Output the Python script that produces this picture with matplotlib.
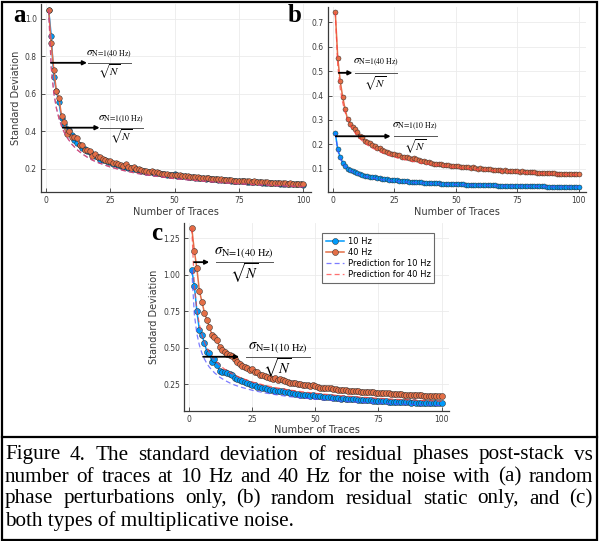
import matplotlib
matplotlib.use("Agg")
import matplotlib.pyplot as plt
from matplotlib.patches import Rectangle
from matplotlib.lines import Line2D

plt.rcParams['mathtext.fontset'] = 'stix'

# number of stacked traces
n_traces = list(range(1, 101))

# (a) random phase perturbations only
a_10hz = [1.05, 0.91, 0.69, 0.615, 0.555, 0.47, 0.44, 0.415, 0.405, 0.38,
          0.355, 0.34, 0.33, 0.31, 0.305, 0.295, 0.29, 0.28, 0.27, 0.262,
          0.25, 0.25, 0.245, 0.238, 0.235, 0.228, 0.225, 0.22, 0.215, 0.212,
          0.21, 0.206, 0.204, 0.2, 0.198, 0.195, 0.19, 0.19, 0.186, 0.184,
          0.182, 0.18, 0.178, 0.176, 0.175, 0.172, 0.17, 0.168, 0.168, 0.175,
          0.164, 0.163, 0.16, 0.16, 0.158, 0.156, 0.155, 0.153, 0.152, 0.151,
          0.15, 0.148, 0.15, 0.146, 0.145, 0.144, 0.143, 0.142, 0.141, 0.14,
          0.139, 0.138, 0.137, 0.136, 0.135, 0.134, 0.138, 0.132, 0.131, 0.13,
          0.13, 0.129, 0.128, 0.127, 0.127, 0.126, 0.125, 0.124, 0.124, 0.123,
          0.122, 0.122, 0.121, 0.12, 0.12, 0.119, 0.118, 0.118, 0.117, 0.116]
a_40hz = [1.05, 0.87, 0.73, 0.615, 0.578, 0.484, 0.45, 0.385, 0.40, 0.37,
          0.368, 0.365, 0.33, 0.325, 0.30, 0.30, 0.295, 0.27, 0.28, 0.265,
          0.262, 0.255, 0.25, 0.243, 0.24, 0.232, 0.23, 0.226, 0.222, 0.215,
          0.225, 0.21, 0.205, 0.21, 0.2, 0.2, 0.196, 0.19, 0.19, 0.186,
          0.19, 0.182, 0.185, 0.178, 0.175, 0.173, 0.172, 0.17, 0.168, 0.17,
          0.165, 0.165, 0.162, 0.16, 0.16, 0.158, 0.157, 0.155, 0.155, 0.152,
          0.153, 0.15, 0.15, 0.148, 0.148, 0.145, 0.146, 0.145, 0.143, 0.142,
          0.14, 0.142, 0.138, 0.138, 0.137, 0.138, 0.135, 0.133, 0.134, 0.132,
          0.133, 0.13, 0.13, 0.128, 0.128, 0.129, 0.127, 0.126, 0.126, 0.125,
          0.125, 0.124, 0.123, 0.122, 0.123, 0.121, 0.121, 0.12, 0.12, 0.119]

# (b) random residual static only
b_10hz = [0.246, 0.179, 0.148, 0.125, 0.111, 0.1, 0.095, 0.091, 0.087, 0.083,
          0.079, 0.076, 0.072, 0.07, 0.068, 0.066, 0.064, 0.062, 0.061, 0.059,
          0.058, 0.056, 0.055, 0.054, 0.053, 0.052, 0.051, 0.05, 0.049, 0.048,
          0.047, 0.047, 0.046, 0.045, 0.044, 0.044, 0.043, 0.043, 0.042, 0.041,
          0.041, 0.04, 0.04, 0.039, 0.039, 0.038, 0.038, 0.038, 0.037, 0.037,
          0.036, 0.036, 0.036, 0.035, 0.035, 0.035, 0.034, 0.034, 0.034, 0.033,
          0.033, 0.033, 0.032, 0.032, 0.032, 0.032, 0.031, 0.031, 0.031, 0.031,
          0.03, 0.03, 0.03, 0.03, 0.03, 0.029, 0.029, 0.029, 0.029, 0.029,
          0.028, 0.028, 0.028, 0.028, 0.028, 0.028, 0.027, 0.027, 0.027, 0.027,
          0.027, 0.027, 0.026, 0.026, 0.026, 0.026, 0.026, 0.026, 0.026, 0.026]
b_40hz = [0.741, 0.554, 0.459, 0.394, 0.344, 0.302, 0.285, 0.271, 0.264, 0.25,
          0.236, 0.228, 0.214, 0.21, 0.205, 0.198, 0.192, 0.185, 0.186, 0.178,
          0.172, 0.168, 0.163, 0.16, 0.16, 0.157, 0.155, 0.15, 0.148, 0.146,
          0.143, 0.14, 0.142, 0.138, 0.135, 0.133, 0.13, 0.128, 0.127, 0.122,
          0.119, 0.12, 0.118, 0.12, 0.117, 0.115, 0.114, 0.112, 0.113, 0.112,
          0.11, 0.108, 0.109, 0.106, 0.106, 0.104, 0.105, 0.102, 0.1, 0.101,
          0.099, 0.1, 0.097, 0.097, 0.096, 0.095, 0.094, 0.094, 0.092, 0.093,
          0.091, 0.092, 0.09, 0.089, 0.09, 0.088, 0.089, 0.087, 0.087, 0.086,
          0.085, 0.086, 0.084, 0.084, 0.083, 0.083, 0.082, 0.082, 0.081, 0.081,
          0.08, 0.08, 0.08, 0.079, 0.079, 0.078, 0.078, 0.077, 0.078, 0.077]

# (c) both types of multiplicative noise
c_10hz = [1.033, 0.925, 0.752, 0.622, 0.588, 0.53, 0.473, 0.462, 0.398, 0.421,
          0.382, 0.341, 0.335, 0.33, 0.325, 0.318, 0.31, 0.29, 0.285, 0.28,
          0.27, 0.265, 0.26, 0.25, 0.245, 0.24, 0.232, 0.228, 0.225, 0.222,
          0.215, 0.21, 0.21, 0.205, 0.205, 0.2, 0.2, 0.195, 0.192, 0.19,
          0.186, 0.18, 0.183, 0.178, 0.176, 0.175, 0.172, 0.17, 0.172, 0.17,
          0.168, 0.166, 0.163, 0.16, 0.158, 0.16, 0.155, 0.154, 0.152, 0.15,
          0.155, 0.15, 0.148, 0.146, 0.145, 0.146, 0.143, 0.142, 0.14, 0.14,
          0.138, 0.137, 0.136, 0.134, 0.135, 0.133, 0.132, 0.133, 0.13, 0.13,
          0.129, 0.128, 0.126, 0.127, 0.125, 0.126, 0.124, 0.123, 0.124, 0.122,
          0.122, 0.121, 0.12, 0.121, 0.119, 0.12, 0.118, 0.119, 0.117, 0.12]
c_40hz = [1.318, 1.165, 1.045, 0.889, 0.816, 0.74, 0.69, 0.64, 0.588, 0.57,
          0.553, 0.503, 0.48, 0.47, 0.455, 0.45, 0.44, 0.42, 0.40, 0.39,
          0.375, 0.37, 0.36, 0.345, 0.35, 0.335, 0.33, 0.31, 0.315, 0.305,
          0.3, 0.29, 0.285, 0.29, 0.28, 0.282, 0.275, 0.27, 0.265, 0.26,
          0.258, 0.255, 0.25, 0.248, 0.245, 0.243, 0.24, 0.238, 0.24, 0.234,
          0.228, 0.226, 0.224, 0.222, 0.22, 0.222, 0.218, 0.215, 0.212, 0.21,
          0.212, 0.208, 0.205, 0.203, 0.205, 0.2, 0.202, 0.198, 0.196, 0.195,
          0.194, 0.192, 0.194, 0.19, 0.19, 0.188, 0.186, 0.188, 0.185, 0.183,
          0.182, 0.184, 0.18, 0.179, 0.178, 0.178, 0.176, 0.175, 0.176, 0.174,
          0.173, 0.172, 0.171, 0.17, 0.17, 0.169, 0.168, 0.167, 0.166, 0.165]

# prediction curves sigma_N=1 / sqrt(N), read at a subset of N
pred_n = [1, 2, 3, 4, 5, 6, 7, 8, 10, 12, 14, 16, 18, 20, 25, 30, 35, 40,
          50, 60, 70, 80, 90, 100]
a_pred_10 = [1.05, 0.742, 0.606, 0.525, 0.470, 0.429, 0.397, 0.371, 0.332, 0.303,
             0.281, 0.263, 0.247, 0.235, 0.21, 0.192, 0.177, 0.166, 0.148, 0.136,
             0.125, 0.117, 0.111, 0.105]
a_pred_40 = [1.05, 0.742, 0.606, 0.525, 0.470, 0.429, 0.397, 0.371, 0.332, 0.303,
             0.281, 0.263, 0.247, 0.235, 0.21, 0.192, 0.177, 0.166, 0.148, 0.136,
             0.125, 0.117, 0.111, 0.105]
b_pred_10 = [0.246, 0.174, 0.142, 0.123, 0.110, 0.100, 0.093, 0.087, 0.078, 0.071,
             0.066, 0.062, 0.058, 0.055, 0.049, 0.045, 0.042, 0.039, 0.035, 0.032,
             0.029, 0.028, 0.026, 0.025]
b_pred_40 = [0.741, 0.524, 0.428, 0.371, 0.331, 0.303, 0.280, 0.262, 0.234, 0.214,
             0.198, 0.185, 0.175, 0.166, 0.148, 0.135, 0.125, 0.117, 0.105, 0.096,
             0.089, 0.083, 0.078, 0.074]
c_pred_10 = [1.033, 0.730, 0.596, 0.517, 0.462, 0.422, 0.390, 0.365, 0.327, 0.298,
             0.276, 0.258, 0.243, 0.231, 0.207, 0.189, 0.175, 0.163, 0.146, 0.133,
             0.123, 0.115, 0.109, 0.103]
c_pred_40 = [1.318, 0.932, 0.761, 0.659, 0.589, 0.538, 0.498, 0.466, 0.417, 0.380,
             0.352, 0.330, 0.311, 0.295, 0.264, 0.241, 0.223, 0.208, 0.186, 0.170,
             0.158, 0.147, 0.139, 0.132]

xticks = [0, 25, 50, 75, 100]
a_yticks = [0.2, 0.4, 0.6, 0.8, 1.0]
b_yticks = [0.1, 0.2, 0.3, 0.4, 0.5, 0.6, 0.7]
c_yticks = [0.25, 0.50, 0.75, 1.00, 1.25]

caption = ["Figure 4. The standard deviation of residual phases post-stack vs",
           "number of traces at 10 Hz and 40 Hz for the noise with (a) random",
           "phase perturbations only, (b) random residual static only, and (c)",
           "both types of multiplicative noise."]

BLUE = '#009AFA'
ORANGE = '#E36F47'
W, H = 601, 541


def px_axes(left, top, right, bottom):
    # pixel box (top-left origin) -> figure fraction
    return [left / W, 1 - bottom / H, (right - left) / W, (bottom - top) / H]


def draw_panel(ax, s10, s40, p10, p40, ylim, yticks, ytlabels, ms):
    ax.plot(n_traces, s10, color=BLUE, lw=1.1, marker='o', ms=ms,
            mfc=BLUE, mec='#2a2a2a', mew=0.35, label='10 Hz')
    ax.plot(n_traces, s40, color=ORANGE, lw=1.1, marker='o', ms=ms,
            mfc=ORANGE, mec='#2a2a2a', mew=0.35, label='40 Hz')
    ax.plot(pred_n, p10, color='#5050ff', lw=0.9, ls=(0, (4, 2.5)), alpha=0.75,
            label='Prediction for 10 Hz')
    ax.plot(pred_n, p40, color='#ff4040', lw=0.9, ls=(0, (4, 2.5)), alpha=0.75,
            label='Prediction for 40 Hz')
    ax.set_xlim(-1.97, 102.97)
    ax.set_ylim(*ylim)
    ax.set_xticks(xticks)
    ax.set_yticks(yticks)
    ax.set_yticklabels(ytlabels)
    ax.grid(True, color='#ebebeb', lw=0.6)
    ax.set_axisbelow(True)
    for side in ('top', 'right'):
        ax.spines[side].set_visible(False)
    for side in ('left', 'bottom'):
        ax.spines[side].set_color('#3a3a3a')
        ax.spines[side].set_linewidth(0.9)
    ax.tick_params(direction='in', length=3, width=0.6, colors='#3a3a3a',
                   labelsize=5.5, labelcolor='#3a3a3a', pad=3)
    ax.set_xlabel('Number of Traces', fontsize=7, color='#3a3a3a', labelpad=1)


def fraction(ax, arrow, bar, y, dy_top, dy_bot, sub, size):
    ax.annotate('', xy=(arrow[1], y), xytext=(arrow[0], y),
                arrowprops=dict(arrowstyle='-|>', color='black', lw=1.3,
                                mutation_scale=6, shrinkA=0, shrinkB=0))
    ax.add_line(Line2D(bar, [y, y], color='#555555', lw=0.7))
    xc = (bar[0] + bar[1]) / 2
    ax.text(xc, y + dy_top, r'$\sigma_{\text{' + sub + r'}}$',
            ha='center', va='center', fontsize=size)
    ax.text(xc, y - dy_bot, r'$\sqrt{N}$', ha='center', va='center',
            fontsize=size)


fig = plt.figure(figsize=(W / 100, H / 100), dpi=100)

ax_a = fig.add_axes(px_axes(41, 4.3, 311, 192))
draw_panel(ax_a, a_10hz, a_40hz, a_pred_10, a_pred_40, (0.077, 1.078),
           a_yticks, ['0.2', '0.4', '0.6', '0.8', '1.0'], 4.0)
ax_a.set_ylabel('Standard Deviation', fontsize=7, color='#3a3a3a', labelpad=3)
fraction(ax_a, (1.9, 15.9), (16.3, 32.9), 0.766, 0.042, 0.05,
         'N=1(40 Hz)', 8)
fraction(ax_a, (6.5, 20.8), (21.0, 37.5), 0.42, 0.042, 0.05,
         'N=1(10 Hz)', 8)

ax_b = fig.add_axes(px_axes(328, 7.1, 586, 192))
draw_panel(ax_b, b_10hz, b_40hz, b_pred_10, b_pred_40, (0.0045, 0.7625),
           b_yticks, ['0.1', '0.2', '0.3', '0.4', '0.5', '0.6', '0.7'], 3.6)
fraction(ax_b, (2.4, 8.0), (8.9, 26.0), 0.493, 0.04, 0.045,
         'N=1(40 Hz)', 8)
fraction(ax_b, (1.2, 23.5), (24.9, 42.2), 0.233, 0.04, 0.045,
         'N=1(10 Hz)', 8)

ax_c = fig.add_axes(px_axes(184.3, 223.1, 449, 410.7))
draw_panel(ax_c, c_10hz, c_40hz, c_pred_10, c_pred_40, (0.067, 1.354),
           c_yticks, ['0.25', '0.50', '0.75', '1.00', '1.25'], 4.3)
ax_c.set_ylabel('Standard Deviation', fontsize=7, color='#3a3a3a', labelpad=3)
fraction(ax_c, (1.9, 7.9), (10.6, 33.0), 1.086, 0.065, 0.075,
         'N=1(40 Hz)', 10.5)
fraction(ax_c, (5.5, 19.8), (22.4, 47.7), 0.437, 0.065, 0.075,
         'N=1(10 Hz)', 10.5)
leg = ax_c.legend(loc='upper right', fontsize=6, frameon=True, fancybox=False,
                  borderpad=0.45, labelspacing=0.25, handlelength=2.2,
                  handletextpad=0.4, bbox_to_anchor=(0.96, 0.97))
leg.get_frame().set_edgecolor('#444444')
leg.get_frame().set_linewidth(0.8)

# panel letters
for x, y, s in [(19, 16, 'a'), (295, 16, 'b'), (157, 234, 'c')]:
    fig.text(x / W, 1 - y / H, s, family='Liberation Serif', weight='bold',
             fontsize=18, ha='center', va='center')

# caption, justified line by line
renderer = fig.canvas.get_renderer()
cap_size = 15.2
cap_x0, cap_x1 = 5 / W, 593 / W
cap_y = [455, 477, 499, 521]
for i, line in enumerate(caption):
    y = 1 - cap_y[i] / H
    if i == len(caption) - 1:
        fig.text(cap_x0, y, line, family='Liberation Serif', fontsize=cap_size,
                 va='center', ha='left')
        continue
    words = line.split(' ')
    texts = [fig.text(0, y, w, family='Liberation Serif', fontsize=cap_size,
                      va='center', ha='left') for w in words]
    widths = [t.get_window_extent(renderer).width / W for t in texts]
    gap = (cap_x1 - cap_x0 - sum(widths)) / (len(words) - 1)
    x = cap_x0
    for t, w in zip(texts, widths):
        t.set_x(x)
        x += w + gap

# outer frame and caption separator
fig.add_artist(Rectangle((1.5 / W, 1.5 / H), 595.5 / W, 538 / H,
                         transform=fig.transFigure, fill=False,
                         edgecolor='black', lw=1.6))
fig.add_artist(Line2D([1.5 / W, 597 / W], [1 - 437 / H, 1 - 437 / H],
                      transform=fig.transFigure, color='black', lw=1.6))

fig.savefig('out.png', dpi=100)
